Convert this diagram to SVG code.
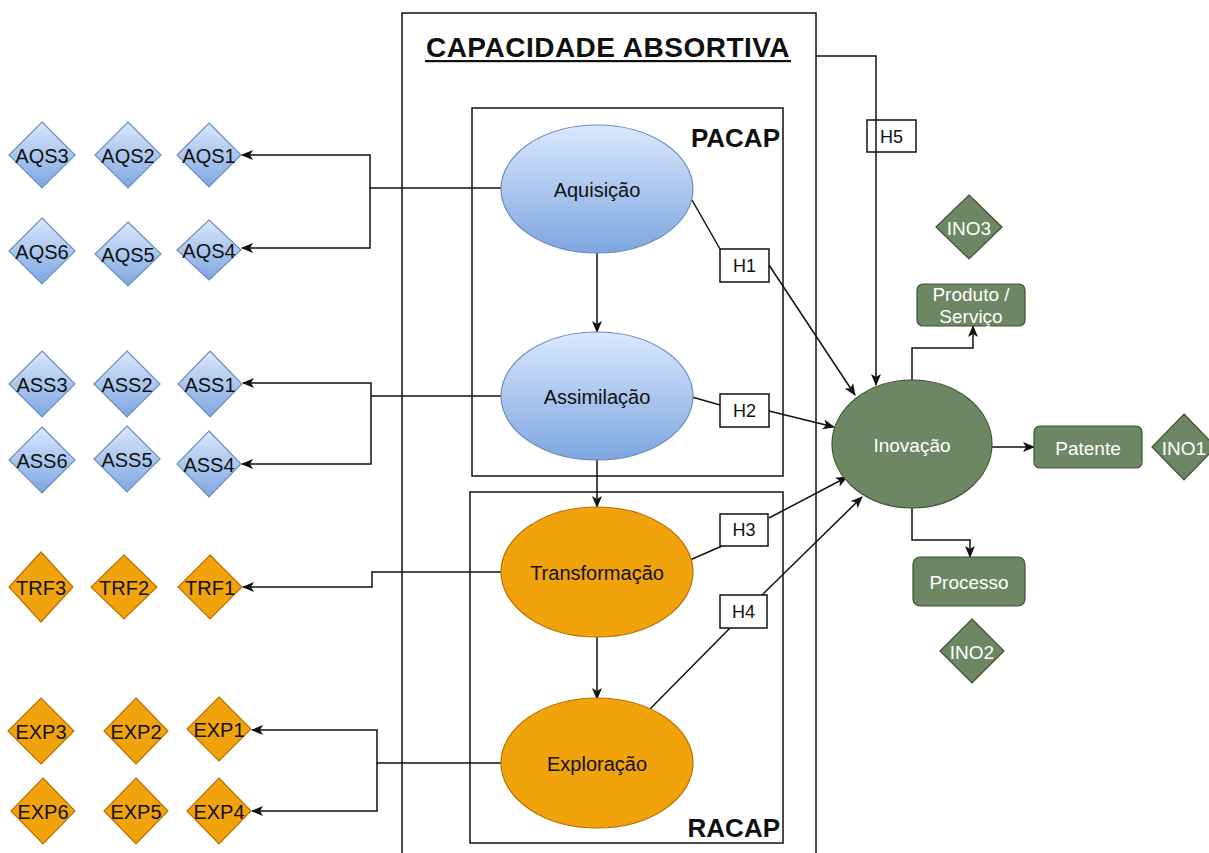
<svg xmlns="http://www.w3.org/2000/svg" width="1209" height="853" viewBox="0 0 1209 853">
  <style>
    text { font-family: "Liberation Sans", Arial, Helvetica, sans-serif; }
    .lbl { font-size: 20px; text-anchor: middle; dominant-baseline: central; fill: #111; }
    .hl { font-size: 18px; text-anchor: middle; dominant-baseline: central; fill: #111; }
    .wlbl { font-size: 19px; text-anchor: middle; dominant-baseline: central; fill: #ffffff; }
    .frame { fill: none; stroke: #111; stroke-width: 1.5; }
    .hbox { fill: #ffffff; stroke: #111; stroke-width: 1.5; }
    .blue { fill: url(#blueGrad); stroke: #6c8ebf; stroke-width: 1.2; }
    .orange { fill: #f0a30a; stroke: #bd7000; stroke-width: 1.2; }
    .green { fill: #6d8764; stroke: #3a5431; stroke-width: 1.2; }
    .edge { fill: none; stroke: #111; stroke-width: 1.5; }
    .arr { marker-end: url(#arrow); }
    .big { font-size: 26px; font-weight: bold; fill: #111; }
    .title { font-size: 28px; font-weight: bold; fill: #111; letter-spacing: 0.5px; }
  </style>
  <defs>
    <linearGradient id="blueGrad" x1="0" y1="0" x2="0" y2="1">
      <stop offset="0" stop-color="#dae8fc"/>
      <stop offset="1" stop-color="#7ea6e0"/>
    </linearGradient>
    <marker id="arrow" viewBox="0 0 12 10" refX="11" refY="5" markerWidth="12" markerHeight="10" markerUnits="userSpaceOnUse" orient="auto">
      <path d="M0,0 L12,5 L0,10 L3,5 z" fill="#111"/>
    </marker>
  </defs>

  <rect width="1209" height="853" fill="#ffffff"/>

  <!-- frames -->
  <g id="capacidade-absortiva">
    <rect class="frame" x="402" y="13" width="414" height="860"/>
    <text class="title" x="608" y="57" text-anchor="middle">CAPACIDADE ABSORTIVA</text>
    <rect x="425" y="60" width="366" height="2.2" fill="#111"/>
  </g>
  <g id="pacap">
    <rect class="frame" x="472" y="108" width="311" height="368"/>
    <text class="big" x="780" y="147" text-anchor="end">PACAP</text>
  </g>
  <g id="racap">
    <rect class="frame" x="470" y="492" width="313" height="351"/>
    <text class="big" x="780" y="837" text-anchor="end">RACAP</text>
  </g>

  <!-- connectors -->
  <g id="connectors">
    <path class="edge arr" d="M501,188 H370 V155 H242"/>
    <path class="edge arr" d="M370,188 V248 H242"/>
    <path class="edge arr" d="M501,396 H371 V383 H243"/>
    <path class="edge arr" d="M371,396 V464 H242"/>
    <path class="edge arr" d="M501,572 H372 V587 H243"/>
    <path class="edge arr" d="M501,763 H377 V730 H252"/>
    <path class="edge arr" d="M377,763 V811 H252"/>

    <path class="edge arr" d="M597,253 V332"/>
    <path class="edge arr" d="M597,460 V507"/>
    <path class="edge arr" d="M597,637 V699"/>

    <path class="edge" d="M692,200 L720,249"/>
    <path class="edge arr" d="M769,265 L855,395"/>
    <path class="edge" d="M692,397 L720,405"/>
    <path class="edge arr" d="M769,411 L834,427"/>
    <path class="edge" d="M690,560 L722,546"/>
    <path class="edge arr" d="M769,518 L847,477"/>
    <path class="edge" d="M650,709 L730,628"/>
    <path class="edge arr" d="M762,595 L862,497"/>
    <path class="edge arr" d="M816,56 H876 V385"/>

    <path class="edge arr" d="M912,380 V348 H973 V326"/>
    <path class="edge arr" d="M992,447 H1034"/>
    <path class="edge arr" d="M912,508 V540 H970 V557"/>
  </g>

  <!-- hypothesis labels -->
  <g id="h1"><rect class="hbox" x="720" y="249" width="49" height="33"/><text class="hl" x="744.5" y="266">H1</text></g>
  <g id="h2"><rect class="hbox" x="720" y="394" width="49" height="33"/><text class="hl" x="744.5" y="411">H2</text></g>
  <g id="h3"><rect class="hbox" x="720" y="514" width="48" height="32"/><text class="hl" x="744" y="530">H3</text></g>
  <g id="h4"><rect class="hbox" x="720" y="595" width="47" height="33"/><text class="hl" x="743.5" y="612">H4</text></g>
  <g id="h5"><rect class="hbox" x="867" y="120" width="49" height="32" style="fill:none"/><text class="hl" x="891.5" y="137">H5</text></g>

  <!-- constructs -->
  <g id="aquisicao"><ellipse class="blue" cx="597" cy="189" rx="96" ry="64"/><text class="lbl" x="597" y="190">Aquisição</text></g>
  <g id="assimilacao"><ellipse class="blue" cx="597" cy="396" rx="96" ry="64"/><text class="lbl" x="597" y="397">Assimilação</text></g>
  <g id="transformacao"><ellipse class="orange" cx="597" cy="572" rx="96" ry="65"/><text class="lbl" x="597" y="573">Transformação</text></g>
  <g id="exploracao"><ellipse class="orange" cx="597" cy="763" rx="96" ry="65"/><text class="lbl" x="597" y="764">Exploração</text></g>
  <g id="inovacao"><ellipse class="green" cx="912" cy="444" rx="80" ry="64"/><text class="wlbl" x="912" y="445">Inovação</text></g>

  <!-- innovation outcomes -->
  <g id="produto-servico">
    <rect class="green" x="917" y="284" width="108" height="42" rx="6"/>
    <text class="wlbl" x="971" y="294">Produto /</text>
    <text class="wlbl" x="971" y="316">Serviço</text>
  </g>
  <g id="patente"><rect class="green" x="1034" y="426" width="108" height="42" rx="6"/><text class="wlbl" x="1088" y="448">Patente</text></g>
  <g id="processo"><rect class="green" x="913" y="557" width="112" height="49" rx="7"/><text class="wlbl" x="969" y="582">Processo</text></g>

  <!-- green indicators -->
  <g id="ino1"><path class="green" d="M1184,414 L1216,447 L1184,480 L1152,447 Z"/><text class="wlbl" x="1184" y="448">INO1</text></g>
  <g id="ino2"><path class="green" d="M972,619 L1004,651 L972,683 L940,651 Z"/><text class="wlbl" x="972" y="652">INO2</text></g>
  <g id="ino3"><path class="green" d="M969,195 L1002,227 L969,259 L936,227 Z"/><text class="wlbl" x="969" y="228">INO3</text></g>

  <!-- blue indicators: acquisition -->
  <g id="aqs3"><path class="blue" d="M42,122 L75,155 L42,188 L9,155 Z"/><text class="lbl" x="42" y="156">AQS3</text></g>
  <g id="aqs2"><path class="blue" d="M128,122 L161,155 L128,188 L95,155 Z"/><text class="lbl" x="128" y="156">AQS2</text></g>
  <g id="aqs1"><path class="blue" d="M209,123 L241,155 L209,187 L177,155 Z"/><text class="lbl" x="209" y="156">AQS1</text></g>
  <g id="aqs6"><path class="blue" d="M42,218 L75,251 L42,284 L9,251 Z"/><text class="lbl" x="42" y="252">AQS6</text></g>
  <g id="aqs5"><path class="blue" d="M128,222 L161,254 L128,286 L95,254 Z"/><text class="lbl" x="128" y="255">AQS5</text></g>
  <g id="aqs4"><path class="blue" d="M209,220 L241,250 L209,280 L177,250 Z"/><text class="lbl" x="209" y="251">AQS4</text></g>

  <!-- blue indicators: assimilation -->
  <g id="ass3"><path class="blue" d="M42,351 L75,384 L42,417 L9,384 Z"/><text class="lbl" x="42" y="385">ASS3</text></g>
  <g id="ass2"><path class="blue" d="M127,351 L160,384 L127,417 L94,384 Z"/><text class="lbl" x="127" y="385">ASS2</text></g>
  <g id="ass1"><path class="blue" d="M210,351 L242,384 L210,417 L178,384 Z"/><text class="lbl" x="210" y="385">ASS1</text></g>
  <g id="ass6"><path class="blue" d="M42,427 L75,460 L42,493 L9,460 Z"/><text class="lbl" x="42" y="461">ASS6</text></g>
  <g id="ass5"><path class="blue" d="M127,426 L160,459 L127,492 L94,459 Z"/><text class="lbl" x="127" y="460">ASS5</text></g>
  <g id="ass4"><path class="blue" d="M209,431 L241,464 L209,497 L177,464 Z"/><text class="lbl" x="209" y="465">ASS4</text></g>

  <!-- orange indicators: transformation -->
  <g id="trf3"><path class="orange" d="M41,552 L73,587 L41,622 L9,587 Z"/><text class="lbl" x="41" y="588">TRF3</text></g>
  <g id="trf2"><path class="orange" d="M124,555 L157,587 L124,619 L91,587 Z"/><text class="lbl" x="124" y="588">TRF2</text></g>
  <g id="trf1"><path class="orange" d="M210,555 L242,587 L210,619 L178,587 Z"/><text class="lbl" x="210" y="588">TRF1</text></g>

  <!-- orange indicators: exploitation -->
  <g id="exp3"><path class="orange" d="M41,698 L74,731 L41,764 L8,731 Z"/><text class="lbl" x="41" y="732">EXP3</text></g>
  <g id="exp2"><path class="orange" d="M136,698 L168,731 L136,764 L104,731 Z"/><text class="lbl" x="136" y="732">EXP2</text></g>
  <g id="exp1"><path class="orange" d="M219,697 L251,729 L219,761 L187,729 Z"/><text class="lbl" x="219" y="730">EXP1</text></g>
  <g id="exp6"><path class="orange" d="M43,778 L75,811 L43,844 L11,811 Z"/><text class="lbl" x="43" y="812">EXP6</text></g>
  <g id="exp5"><path class="orange" d="M136,778 L168,811 L136,844 L104,811 Z"/><text class="lbl" x="136" y="812">EXP5</text></g>
  <g id="exp4"><path class="orange" d="M219,778 L251,811 L219,844 L187,811 Z"/><text class="lbl" x="219" y="812">EXP4</text></g>
</svg>
